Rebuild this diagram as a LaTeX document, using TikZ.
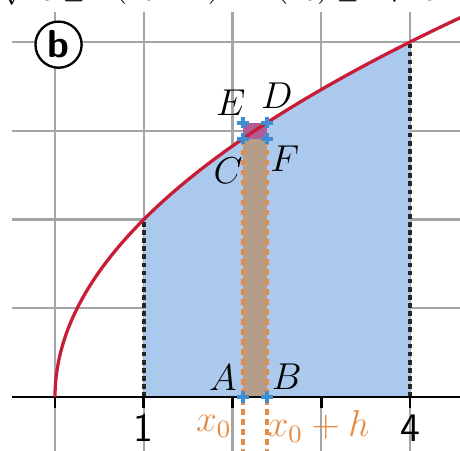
\documentclass[tikz,border=0pt]{standalone}
\usepackage{amsmath}
\usetikzlibrary{calc}
\definecolor{gridc}{RGB}{165,165,165}
\definecolor{areablue}{RGB}{170,201,236}
\definecolor{curvered}{RGB}{200,28,55}
\definecolor{rectbrown}{RGB}{182,157,138}
\definecolor{rectpurple}{RGB}{178,92,150}
\definecolor{dashorange}{RGB}{226,140,72}
\definecolor{markblue}{RGB}{62,140,210}
\begin{document}
\begin{tikzpicture}[x=1cm,y=1cm,
  gridline/.style={draw=gridc,line width=0.65pt},
  axisline/.style={draw=black,line width=0.85pt},
  blackdash/.style={draw=black!85,line width=1.2pt,dash pattern=on 1.5pt off 1.1pt},
  orangedash/.style={draw=dashorange,line width=1pt,dash pattern=on 1.8pt off 1.4pt},
  ptlabel/.style={font=\fontsize{12}{14}\selectfont,inner sep=0pt},
  numlabel/.style={font=\sffamily\fontsize{13}{15}\selectfont,inner sep=0pt},
  xlabel/.style={font=\fontsize{11.5}{13}\selectfont,text=dashorange,inner sep=0pt},
  marker/.style={draw=markblue,line width=1.2pt}]
\useasboundingbox (-0.6197,-0.5972) rectangle (4.5634,4.4732);
\begin{scope}
\clip (-0.6197,-0.5972) rectangle (4.5634,4.4732);
% top formula (cut off by the frame, as in the source)
\node[anchor=base west,inner sep=0pt,font=\fontsize{9}{10}\selectfont] (formula) at (-0.80,4.50)
  {$h\sqrt{x_0}\le F(x_0+h)-F(x_0)\le h\sqrt{x_0+h}$};
% grid
\foreach \yy in {1,2,3,4} \draw[gridline] (-0.485,\yy) -- (4.6,\yy);
\foreach \xx in {0,1,2,3,4} \draw[gridline] (\xx,-0.65) -- (\xx,4.34);
% blue area
\fill[areablue] (1,0) -- plot[domain=1:2,samples=60,variable=\t] ({\t*\t},{2*\t}) -- (4,0) -- cycle;
% points
\coordinate (A) at (2.118,0);
\coordinate (B) at (2.389,0);
\coordinate (C) at (2.118,2.911);
\coordinate (F) at (2.389,2.911);
\coordinate (E) at (2.118,3.091);
\coordinate (D) at (2.389,3.091);
\fill[rectbrown] (A) rectangle (F);
\fill[rectpurple] (C) rectangle (D);
% dashed lines
\draw[blackdash] (1,0) -- (1,2);
\draw[blackdash] (4,0) -- (4,4);
\draw[orangedash] (2.118,-0.65) -- (C);
\draw[orangedash] (2.389,-0.65) -- (F);
% axis and ticks
\draw[axisline] (-0.485,0) -- (4.6,0);
\foreach \xx in {0,1,2,3,4} \draw[black,line width=0.85pt] (\xx,0) -- (\xx,-0.12);
% curve
\draw[curvered,line width=1.05pt] plot[domain=0:2.14,samples=120,variable=\t] ({\t*\t},{2*\t});
% markers
\foreach \p in {A,B,C,D,E,F}
  \draw[marker] ($(\p)+(-0.065,0)$) -- ($(\p)+(0.065,0)$) ($(\p)+(0,-0.065)$) -- ($(\p)+(0,0.065)$);
\end{scope}
% labels
\node[ptlabel] (lE) at (1.98,3.32) {$E$};
\node[ptlabel] (lD) at (2.50,3.39) {$D$};
\node[ptlabel] (lC) at (1.95,2.55) {$C$};
\node[ptlabel] (lF) at (2.59,2.68) {$F$};
\node[ptlabel] (lA) at (1.89,0.22) {$A$};
\node[ptlabel] (lB) at (2.61,0.23) {$B$};
\node[xlabel] (lx0) at (1.79,-0.33) {$x_0$};
\node[xlabel] (lx0h) at (2.97,-0.33) {$x_0+h$};
\node[numlabel] (l1) at (1.0,-0.35) {1};
\node[numlabel] (l4) at (4.0,-0.35) {4};
% circled b
\node[draw=black,fill=white,circle,line width=0.75pt,minimum size=0.52cm,inner sep=0pt,
  font=\sffamily\bfseries\fontsize{12.5}{14}\selectfont] (tag) at (0.04,3.97) {b};
\end{tikzpicture}
\end{document}
